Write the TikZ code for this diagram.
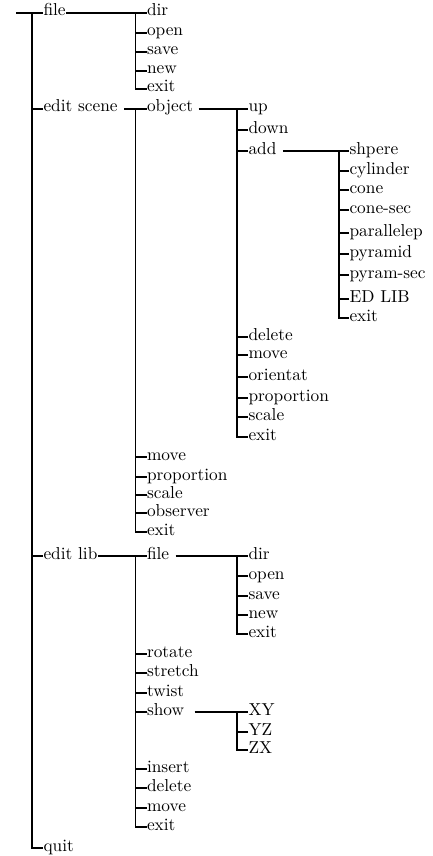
\documentclass[tikz,border=0pt]{standalone}
\usepackage{fontspec}
\setmainfont{lmroman10-regular.otf}
\usepackage{tikz}

\begin{document}
\begin{tikzpicture}[x=1pt, y=-1pt, line width=1.1pt,
  item/.style={anchor=west, inner sep=0pt, text height=8pt, text depth=2pt,
               font=\fontsize{17.3}{20}\selectfont}]
\useasboundingbox (0,0) rectangle (432,856);
%
\node [item] (file)   at (43,13)  {file};
\node [item] (escene) at (43,109) {edit scene};
\node [item] (elib)   at (43,556) {edit lib};
\node [item] (quit)   at (43,848) {quit};
%
\node [item] (dir)   at (146.5,13) {dir};
\node [item] (fopen) at (146.5,33) {open};
\node [item] (fsave) at (146.5,52) {save};
\node [item] (fnew)  at (146.5,71) {new};
\node [item] (fexit) at (146.5,89) {exit};
%
\node [item] (object)   at (146.5,109) {object};
\node [item] (smove)    at (146.5,457) {move};
\node [item] (sprop)    at (146.5,477) {proportion};
\node [item] (sscale)   at (146.5,495) {scale};
\node [item] (observer) at (146.5,513) {observer};
\node [item] (sexit)    at (146.5,532) {exit};
%
\node [item] (up)      at (248,109) {up};
\node [item] (down)    at (248,130) {down};
\node [item] (add)     at (248,151) {add};
\node [item] (odelete) at (248,337) {delete};
\node [item] (omove)   at (248,355) {move};
\node [item] (orient)  at (248,377) {orientat};
\node [item] (oprop)   at (248,398) {proportion};
\node [item] (oscale)  at (248,417) {scale};
\node [item] (oexit)   at (248,437) {exit};
%
\node [item] (shpere)     at (349,151) {shpere};
\node [item] (cylinder)   at (349,171) {cylinder};
\node [item] (cone)       at (349,190) {cone};
\node [item] (conesec)    at (349,210) {cone-sec};
\node [item] (parallelep) at (349,233) {parallelep};
\node [item] (pyramid)    at (349,254) {pyramid};
\node [item] (pyramsec)   at (349,275) {pyram-sec};
\node [item] (edlib)      at (349,299) {ED LIB};
\node [item] (aexit)      at (349,318) {exit};
%
\node [item] (lfile)   at (146.5,556) {file};
\node [item] (rotate)  at (146.5,654) {rotate};
\node [item] (stretch) at (146.5,673) {stretch};
\node [item] (twist)   at (146.5,693) {twist};
\node [item] (show)    at (146.5,712) {show};
\node [item] (insert)  at (146.5,769) {insert};
\node [item] (ldelete) at (146.5,788) {delete};
\node [item] (lmove)   at (146.5,808) {move};
\node [item] (lexit)   at (146.5,827) {exit};
%
\node [item] (ldir)   at (248,556) {dir};
\node [item] (lopen)  at (248,576) {open};
\node [item] (lsave)  at (248,596) {save};
\node [item] (lnew)   at (248,615) {new};
\node [item] (lfexit) at (248,634) {exit};
%
\node [item] (xy) at (248,712) {XY};
\node [item] (yz) at (248,732) {YZ};
\node [item] (zx) at (248,750) {ZX};
%%%%%%%%%%%%%%%%%%%%%%%%%%%%%%%
\coordinate (root) at (16,13);
\draw (root) -- (file.west);
\draw ([xshift=-11pt]file.west) |- (quit.west);
\draw (escene.west) -- ++(-11,0) (elib.west) -- ++(-11,0);
%
\draw (file.east) -- (dir.west);
\draw ([xshift=-11pt]dir.west) |- (fexit.west);
\draw (fopen.west) -- ++(-11,0) (fsave.west) -- ++(-11,0) (fnew.west) -- ++(-11,0);
%
\draw ([xshift=6pt]escene.east) -- (object.west);
\draw ([xshift=-11pt]object.west) |- (sexit.west);
\draw (smove.west) -- ++(-11,0) (sprop.west) -- ++(-11,0) (sscale.west) -- ++(-11,0)
      (observer.west) -- ++(-11,0);
%
\draw ([xshift=5pt]object.east) -- (up.west);
\draw ([xshift=-11pt]up.west) |- (oexit.west);
\draw (down.west) -- ++(-11,0) (add.west) -- ++(-11,0) (odelete.west) -- ++(-11,0)
      (omove.west) -- ++(-11,0) (orient.west) -- ++(-11,0) (oprop.west) -- ++(-11,0)
      (oscale.west) -- ++(-11,0);
%
\draw ([xshift=6pt]add.east) -- (shpere.west);
\draw ([xshift=-10pt]shpere.west) |- (aexit.west);
\draw (cylinder.west) -- ++(-10,0) (cone.west) -- ++(-10,0) (conesec.west) -- ++(-10,0)
      (parallelep.west) -- ++(-10,0) (pyramid.west) -- ++(-10,0)
      (pyramsec.west) -- ++(-10,0) (edlib.west) -- ++(-10,0);
%
\draw (elib.east) -- (lfile.west);
\draw ([xshift=-11pt]lfile.west) |- (lexit.west);
\draw (rotate.west) -- ++(-11,0) (stretch.west) -- ++(-11,0) (twist.west) -- ++(-11,0)
      (show.west) -- ++(-11,0) (insert.west) -- ++(-11,0) (ldelete.west) -- ++(-11,0)
      (lmove.west) -- ++(-11,0);
%
\draw ([xshift=6pt]lfile.east) -- (ldir.west);
\draw ([xshift=-11pt]ldir.west) |- (lfexit.west);
\draw (lopen.west) -- ++(-11,0) (lsave.west) -- ++(-11,0) (lnew.west) -- ++(-11,0);
%
\draw ([xshift=10pt]show.east) -- (xy.west);
\draw ([xshift=-11pt]xy.west) |- (zx.west);
\draw (yz.west) -- ++(-11,0);
%%%%%%%%%%%%%%%%%%%%%%%%%%%%%%%
\end{tikzpicture}
\end{document}
